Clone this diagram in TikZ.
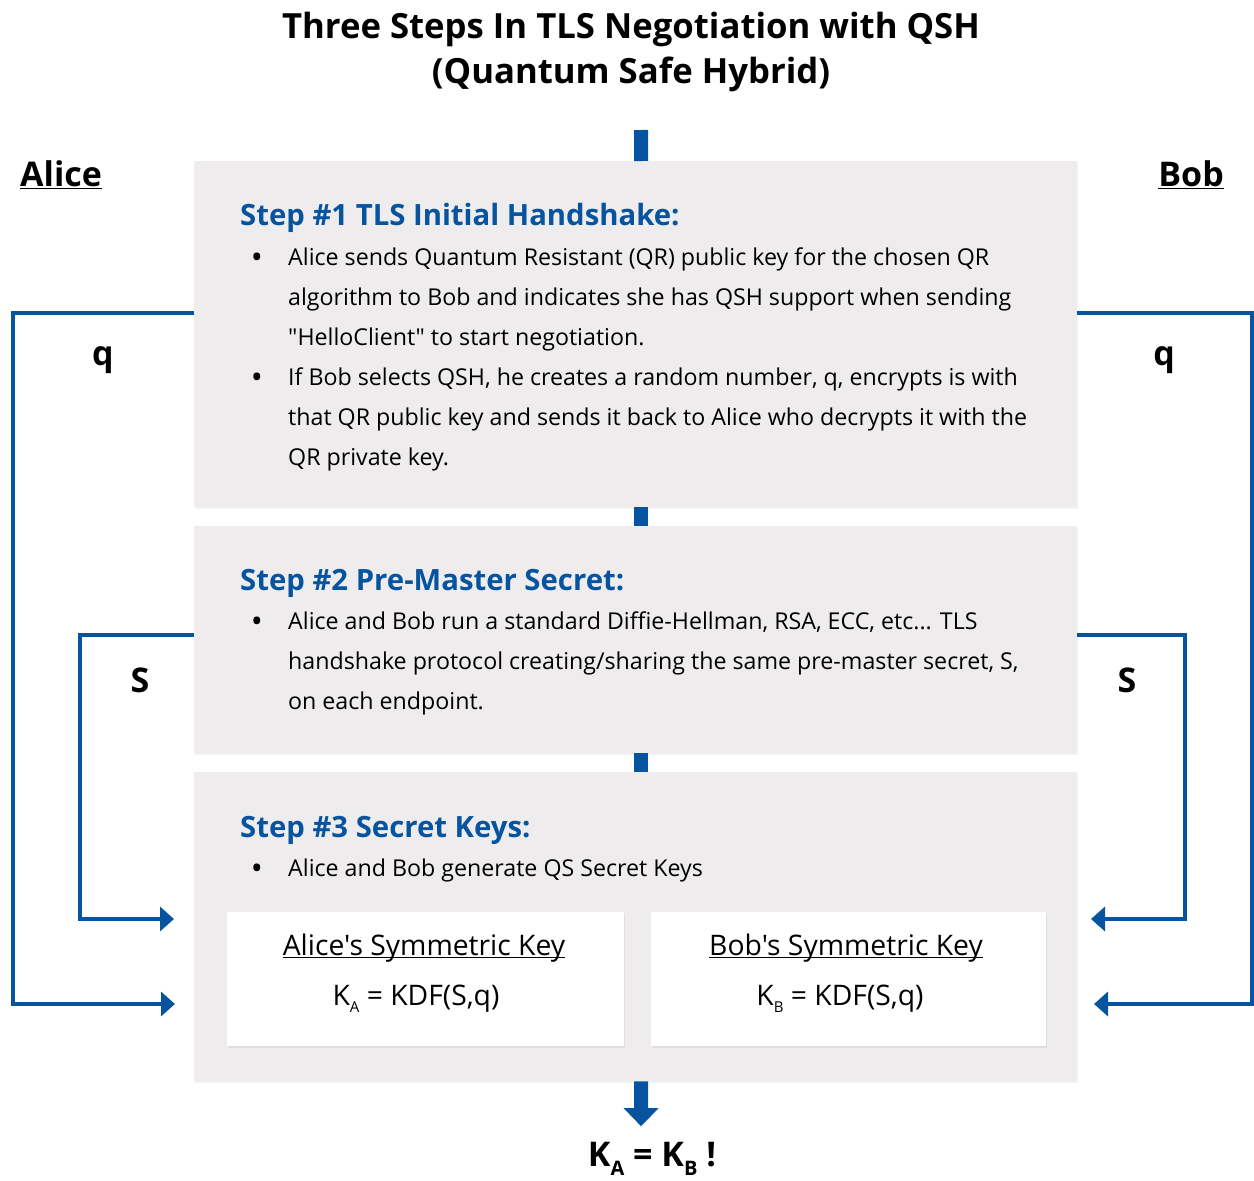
\documentclass[tikz,border=0pt]{standalone}
\usepackage{fontspec}
\setmainfont{Open Sans}[Ligatures=TeXOff]
\usetikzlibrary{arrows.meta,shadows}

\definecolor{qblue}{RGB}{6,84,160}
\definecolor{boxgray}{RGB}{238,236,236}

% underline that cuts through the descenders
\newcommand{\keyline}[1]{\setbox0\hbox{#1}\rlap{\rule[-3pt]{\wd0}{1.3pt}}\box0}
\newcommand{\lowsub}[1]{\raisebox{-7pt}{\fontsize{15}{15}\selectfont #1}}

\tikzset{
  stepbox/.style={fill=boxgray, inner sep=0pt, anchor=north west,
    drop shadow={shadow xshift=1pt, shadow yshift=-2pt, opacity=0.10}},
  keybox/.style={fill=white, inner sep=0pt, anchor=north west,
    drop shadow={shadow xshift=1pt, shadow yshift=-2pt, opacity=0.12}},
  heading/.style={anchor=base west, inner sep=0pt, text=qblue,
    font=\fontsize{29.3}{34}\selectfont\bfseries},
  body/.style={anchor=north west, inner sep=0pt, align=left,
    font=\fontsize{23.2}{40}\selectfont},
  dot/.style={inner sep=0pt, font=\fontsize{32}{32}\selectfont},
  keytext/.style={font=\fontsize{28.3}{32}\selectfont},
  link/.style={draw=qblue, line width=4pt, -{Triangle[width=24pt,length=14pt]}},
  bar/.style={draw=qblue, line width=14pt},
  side/.style={inner sep=0pt, font=\fontsize{34}{40}\selectfont\bfseries}
}

\begin{document}
\begin{tikzpicture}[x=1pt,y=-1pt]
  \useasboundingbox (0,0) rectangle (1254,1181);

  % title
  \node[align=center, font=\fontsize{34.7}{45}\selectfont\bfseries] (title) at (631,52)
    {Three Steps In TLS Negotiation with QSH\\(Quantum Safe Hybrid)};

  % the two parties
  \node[side, anchor=west] (alice) at (20,175) {\underline{Alice}};
  \node[side, anchor=east] (bob) at (1224,175) {\underline{Bob}};

  % step boxes
  \node[stepbox, minimum width=883, minimum height=346] (s1) at (194,161) {};
  \node[stepbox, minimum width=883, minimum height=227] (s2) at (194,526) {};
  \node[stepbox, minimum width=883, minimum height=309] (s3) at (194,772) {};

  % step 1
  \node[heading] (h1) at (240,225.5) {Step \#1 TLS Initial Handshake:};
  \node[dot] (d1a) at (257,261) {•};
  \node[body] (t1a) at (288,247.5) {Alice sends Quantum Resistant (QR) public key for the chosen QR\\
    algorithm to Bob and indicates she has QSH support when sending\\
    "HelloClient" to start negotiation.};
  \node[dot] (d1b) at (257,381) {•};
  \node[body] (t1b) at (288,367.5) {If Bob selects QSH, he creates a random number, q, encrypts is with\\
    that QR public key and sends it back to Alice who decrypts it with the\\
    QR private key.};

  % step 2
  \node[heading] (h2) at (240,590) {Step \#2 Pre-Master Secret:};
  \node[dot] (d2a) at (257,625) {•};
  \node[body] (t2a) at (288,611.5) {Alice and Bob run a standard Diffie-Hellman, RSA, ECC, etc... TLS\\
    handshake protocol creating/sharing the same pre-master secret, S,\\
    on each endpoint.};

  % step 3
  \node[heading] (h3) at (240,837) {Step \#3 Secret Keys:};
  \node[dot] (d3a) at (257,872) {•};
  \node[body] (t3a) at (288,858.5) {Alice and Bob generate QS Secret Keys};

  % symmetric keys
  \node[keybox, minimum width=397, minimum height=134] (ka) at (227,912) {};
  \node[keybox, minimum width=395, minimum height=134] (kb) at (651,912) {};
  \node[keytext] (kat) at (424,948) {\keyline{Alice's Symmetric Key}};
  \node[keytext] (kaf) at (416,999) {K\lowsub{A} = KDF(S,q)};
  \node[keytext] (kbt) at (846,948) {\keyline{Bob's Symmetric Key}};
  \node[keytext] (kbf) at (840,999) {K\lowsub{B} = KDF(S,q)};

  % flow bars between the steps
  \coordinate (top) at (641,130);
  \draw[bar] (top) -- ([xshift=5.5pt]s1.north);
  \draw[bar] ([xshift=5.5pt]s1.south) -- ([xshift=5.5pt]s2.north);
  \draw[bar] ([xshift=5.5pt]s2.south) -- ([xshift=5.5pt]s3.north);

  % result
  \node[inner sep=0pt, font=\fontsize{34}{40}\selectfont\bfseries] (res) at (652,1159)
    {K\raisebox{-9pt}{\fontsize{20}{20}\selectfont A} = K\raisebox{-9pt}{\fontsize{20}{20}\selectfont B} !};
  \draw[draw=qblue, line width=14pt, -{Triangle[width=34pt,length=18pt]}]
    ([xshift=5.5pt]s3.south) -- ([xshift=-11pt,yshift=16pt]res.north);

  % q and S links
  \coordinate (qa) at (175,1004);
  \coordinate (sa) at (174,919);
  \coordinate (qb) at (1094,1004);
  \coordinate (sb) at (1091,919);
  \draw[link] ([yshift=-152pt]s1.north west) -| (13,1004) -- (qa);
  \draw[link] ([yshift=-109pt]s2.north west) -| (80,919) -- (sa);
  \draw[link] ([yshift=-152pt]s1.north east) -| (1252,1004) -- (qb);
  \draw[link] ([yshift=-109pt]s2.north east) -| (1185,919) -- (sb);
  \node[side] (qal) at (103,360) {q};
  \node[side] (qbl) at (1164,360) {q};
  \node[side] (sal) at (140,680) {S};
  \node[side] (sbl) at (1127,680) {S};
\end{tikzpicture}
\end{document}
